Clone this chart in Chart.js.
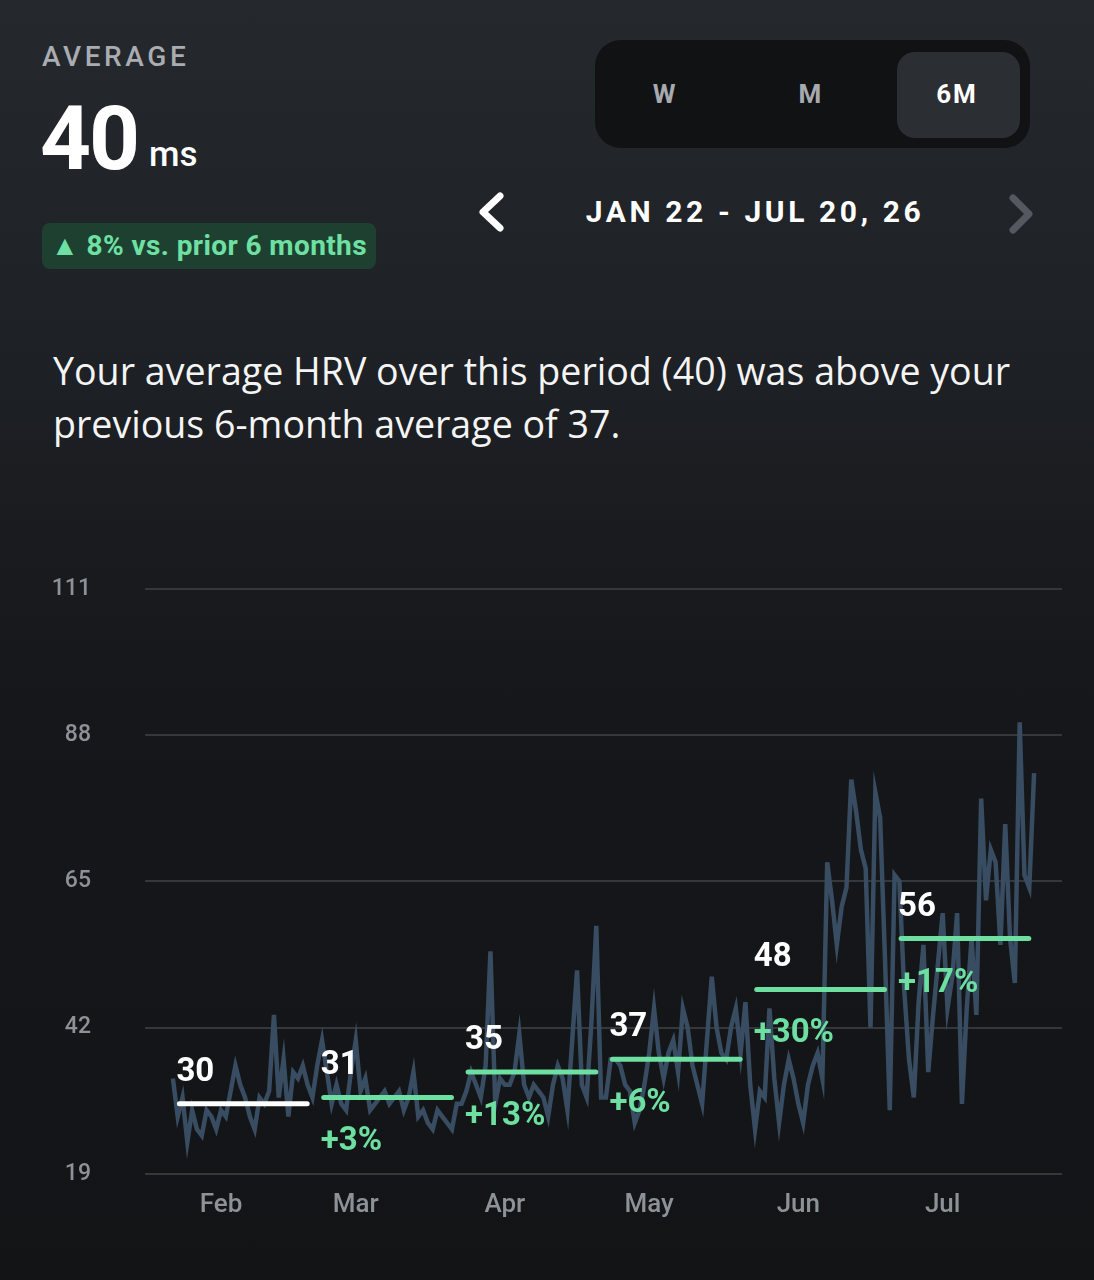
<!DOCTYPE html>
<html lang="en">
<head>
<meta charset="UTF-8">
<title>HRV 6M</title>
<script src="https://cdn.jsdelivr.net/npm/chart.js"></script>
<style>
    html, body { margin: 0; padding: 0; }
    body {
        width: 1094px; height: 1280px; position: relative; overflow: hidden;
        background: linear-gradient(#25282d 0%, #1d2024 30%, #15171a 55%, #121416 100%);
        font-family: Roboto, sans-serif; color: #fff;
    }
    .abs { position: absolute; white-space: nowrap; }
    #avgTitle { left: 42px; top: 40px; font-size: 28px; font-weight: 500; letter-spacing: 3.6px; color: #a9acb1; }
    #avgValue { left: 40px; top: 86px; font-size: 89px; font-weight: 700; letter-spacing: -2px; }
    #avgUnit { left: 149px; top: 134px; font-size: 35px; font-weight: 500; }
    #badge { left: 42px; top: 223px; width: 334px; height: 46px; border-radius: 8px; background: #1e4030; }
    #badgeText { left: 51px; top: 229px; font-size: 28px; font-weight: 700; letter-spacing: 0.4px; color: #6fe0a3; }
    #seg { left: 595px; top: 40px; width: 435px; height: 108px; border-radius: 26px; background: #101214; }
    #segSel { left: 897px; top: 52px; width: 123px; height: 86px; border-radius: 18px; background: #2b2e33; }
    .segTxt { top: 79px; width: 120px; text-align: center; font-size: 26px; font-weight: 700; letter-spacing: 2px; }
    #range { left: 555px; top: 194px; width: 400px; text-align: center; font-size: 30px; font-weight: 700; letter-spacing: 3.6px; }
    #sentence { left: 53px; top: 344px; width: 1010px; font-family: "Open Sans", sans-serif; font-size: 37.6px; line-height: 53px; color: #f4f4f4; white-space: normal; }
    #chartBox { position: absolute; left: 0; top: 521px; width: 1094px; height: 735px; }
</style>
</head>
<body>

<div class="abs" id="avgTitle">AVERAGE</div>
<div class="abs" id="avgValue">40</div>
<div class="abs" id="avgUnit">ms</div>
<div class="abs" id="badge"></div>
<div class="abs" id="badgeText">▲ 8% vs. prior 6 months</div>

<div class="abs" id="seg"></div>
<div class="abs" id="segSel"></div>
<div class="abs segTxt" style="left:605px;color:#a7aaaf">W</div>
<div class="abs segTxt" style="left:751px;color:#a7aaaf">M</div>
<div class="abs segTxt" style="left:897px;color:#fff">6M</div>

<svg class="abs" style="left:0;top:0" width="1094" height="260">
    <polyline points="500,196 483,212 500,228" fill="none" stroke="#ffffff" stroke-width="7" stroke-linecap="round" stroke-linejoin="round"/>
    <polyline points="1013,198 1029,214 1013,230" fill="none" stroke="#55595f" stroke-width="7" stroke-linecap="round" stroke-linejoin="round"/>
</svg>
<div class="abs" id="range">JAN 22 - JUL 20, 26</div>

<div class="abs" id="sentence">Your average HRV over this period (40) was above your previous 6-month average of 37.</div>

<div id="chartBox"><canvas id="hrvCanvas"></canvas></div>

<script>
    // daily HRV (ms), Jan 22 -> Jul 20, one value per day
    const hrvDaily = [
        34, 28, 31, 24, 29, 26, 25, 29, 28, 26, 29, 28, 32, 36, 33, 31, 28, 26, 31, 30,
        32, 44, 31, 37, 28, 35, 34, 36, 33, 31,
        36, 40, 35, 30, 33, 30, 29, 35, 40, 32, 34, 29, 30, 31, 32, 30, 31, 32, 29, 31,
        35, 28, 29, 27, 26, 29, 28, 27, 26, 30,
        30, 32, 35, 33, 31, 36, 54, 30, 34, 33, 33, 35, 41, 33, 31, 33, 32, 31, 28, 33,
        36, 34, 29, 40, 51, 33, 31, 43, 58, 31,
        31, 37, 37, 36, 33, 32, 27, 29, 33, 38, 45, 38, 34, 38, 40, 35, 45, 42, 36, 33,
        30, 40, 50, 42, 38, 37, 42, 45, 38, 46,
        33, 26, 32, 31, 45, 34, 27, 33, 37, 34, 30, 27, 33, 36, 38, 34, 68, 62, 55, 61,
        64, 81, 76, 70, 67, 42, 79, 75, 53, 29,
        66, 65, 48, 37, 31, 46, 55, 35, 44, 52, 60, 45, 50, 60, 30, 45, 56, 44, 78, 62,
        70, 68, 55, 74, 56, 49, 90, 66, 64, 82
    ];

    // 30-day periods: first day index, average and change vs previous period
    const periodStart = [0, 30, 60, 90, 120, 150];
    const periodAvg = [30, 31, 35, 37, 48, 56];
    const periodChange = ['', '+3%', '+13%', '+6%', '+30%', '+17%'];

    // month ticks (day index of the 1st of each month)
    const monthTicks = [10, 38, 69, 99, 130, 160];
    const monthLabels = ['Feb', 'Mar', 'Apr', 'May', 'Jun', 'Jul'];

    const yTicks = [19, 42, 65, 88, 111];

    const green = '#6cdfa1';
    const lineColor = '#384c62';
    // average bars are inset a little inside their 30 days
    const barIn = 1.35, barOut = 27.9;

    let datasets = [{
        data: hrvDaily.map((v, i) => ({ x: i, y: v })),
        borderColor: lineColor,
        borderWidth: 4.5,
        pointRadius: 0,
        tension: 0,
        order: 5
    }];

    periodAvg.forEach(function (v, i) {
        datasets.push({
            data: [{ x: periodStart[i] + barIn, y: v }, { x: periodStart[i] + barOut, y: v }],
            borderColor: i == 0 ? '#ffffff' : green,
            borderWidth: 5,
            borderCapStyle: 'round',
            pointRadius: 0,
            order: 1
        });
    });

    // number above each average line, change below it
    const avgLabels = {
        id: 'avgLabels',
        afterDatasetsDraw(chart) {
            const ctx = chart.ctx;
            const xs = chart.scales.x;
            const ys = chart.scales.y;
            ctx.save();
            ctx.font = 'bold 33px Roboto';
            ctx.textAlign = 'left';
            ctx.textBaseline = 'alphabetic';
            periodAvg.forEach(function (v, i) {
                const x = xs.getPixelForValue(periodStart[i] + barIn) - 3;
                const y = ys.getPixelForValue(v);
                ctx.fillStyle = '#ffffff';
                ctx.fillText(String(v), x, y - 23);
                if (periodChange[i]) {
                    ctx.fillStyle = green;
                    ctx.fillText(periodChange[i], x, y + 53);
                }
            });
            ctx.restore();
        }
    };

    const config = {
        type: 'line',
        data: { datasets: datasets },
        plugins: [avgLabels],
        options: {
            responsive: true,
            maintainAspectRatio: false,
            animation: false,
            layout: { padding: { left: 0, right: 32, top: 29, bottom: 19 } },
            plugins: { legend: { display: false }, tooltip: { enabled: false } },
            scales: {
                x: {
                    type: 'linear',
                    min: -5.8,
                    max: 184.8,
                    grid: { display: false, drawTicks: false },
                    border: { display: false },
                    afterBuildTicks: function (scale) {
                        scale.ticks = monthTicks.map(v => ({ value: v }));
                    },
                    ticks: {
                        autoSkip: false,
                        maxRotation: 0,
                        padding: 16,
                        color: '#8d9298',
                        font: { family: 'Roboto', size: 26, weight: '500' },
                        callback: function (value) {
                            return monthLabels[monthTicks.indexOf(value)];
                        }
                    }
                },
                y: {
                    min: yTicks[0],
                    max: yTicks[yTicks.length - 1],
                    afterBuildTicks: function (scale) {
                        scale.ticks = yTicks.map(v => ({ value: v }));
                    },
                    afterFit: function (scale) { scale.width = 145; },
                    grid: { color: '#34373c', lineWidth: 2, drawTicks: false },
                    border: { display: false },
                    ticks: {
                        padding: 54,
                        color: '#8d9298',
                        font: { family: 'Roboto', size: 23, weight: '500' }
                    }
                }
            }
        }
    };

    let myChart = new Chart(document.getElementById('hrvCanvas'), config);
</script>
</body>
</html>
